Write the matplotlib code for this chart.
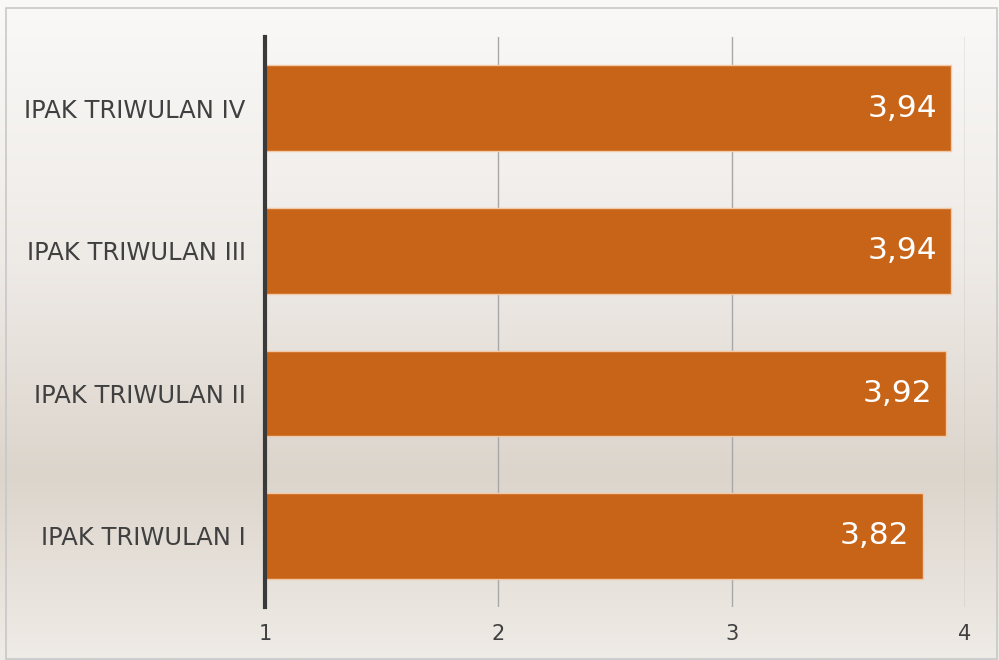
import numpy as np
import matplotlib
matplotlib.use('Agg')
import matplotlib.pyplot as plt
from matplotlib.colors import LinearSegmentedColormap
from matplotlib.patches import Rectangle

categories = ['IPAK TRIWULAN I', 'IPAK TRIWULAN II', 'IPAK TRIWULAN III', 'IPAK TRIWULAN IV']
values = [3.82, 3.92, 3.94, 3.94]
value_labels = ['3,82', '3,92', '3,94', '3,94']
x_ticks = [1, 2, 3, 4]
x_start = 1

plt.rcParams['font.family'] = ['DejaVu Sans']

fig = plt.figure(figsize=(9.99, 6.6), dpi=100)

# background gradient over whole figure
bg = fig.add_axes([0, 0, 1, 1], zorder=-10)
cmap = LinearSegmentedColormap.from_list(
    'bg', [(0.0, '#efebe6'), (0.28, '#dcd5cc'), (0.6, '#eeeae6'), (1.0, '#faf9f8')])
grad = np.linspace(0, 1, 256).reshape(-1, 1)
bg.imshow(grad, aspect='auto', cmap=cmap, origin='lower', extent=[0, 1, 0, 1])
bg.set_xlim(0, 1)
bg.set_ylim(0, 1)
bg.axis('off')
bg.add_patch(Rectangle((0.006, 0.002), 0.992, 0.986, fill=False,
                       edgecolor='#c8c8c8', linewidth=1.2))

ax = fig.add_axes([265 / 999, 1 - 607 / 660, 700 / 999, 570 / 660])
ax.patch.set_alpha(0)

y = np.arange(len(categories))
widths = [v - x_start for v in values]
ax.barh(y, widths, left=x_start, height=0.6, color='#c86418',
        edgecolor='#f2c9a6', linewidth=1.0, zorder=3)
for yi, v, lab in zip(y, values, value_labels):
    ax.text(v - 0.06, yi, lab, ha='right', va='center', color='white',
            fontsize=22.5, zorder=4)

ax.set_xlim(1, 4)
ax.set_ylim(-0.5, 3.5)
ax.set_xticks(x_ticks)
ax.set_xticklabels([str(t) for t in x_ticks])
ax.set_yticks(y)
ax.set_yticklabels(categories)
ax.tick_params(axis='both', length=0, labelcolor='#404040')
ax.tick_params(axis='x', pad=12, labelsize=15)
ax.tick_params(axis='y', pad=14, labelsize=17.5)
ax.grid(axis='x', color='#a8a8a8', linewidth=1.0, zorder=1)
for s in ['top', 'right', 'bottom']:
    ax.spines[s].set_visible(False)
ax.spines['left'].set_color('#3a3a3a')
ax.spines['left'].set_linewidth(3)
ax.spines['left'].set_zorder(5)

fig.savefig('out.png', dpi=100)
